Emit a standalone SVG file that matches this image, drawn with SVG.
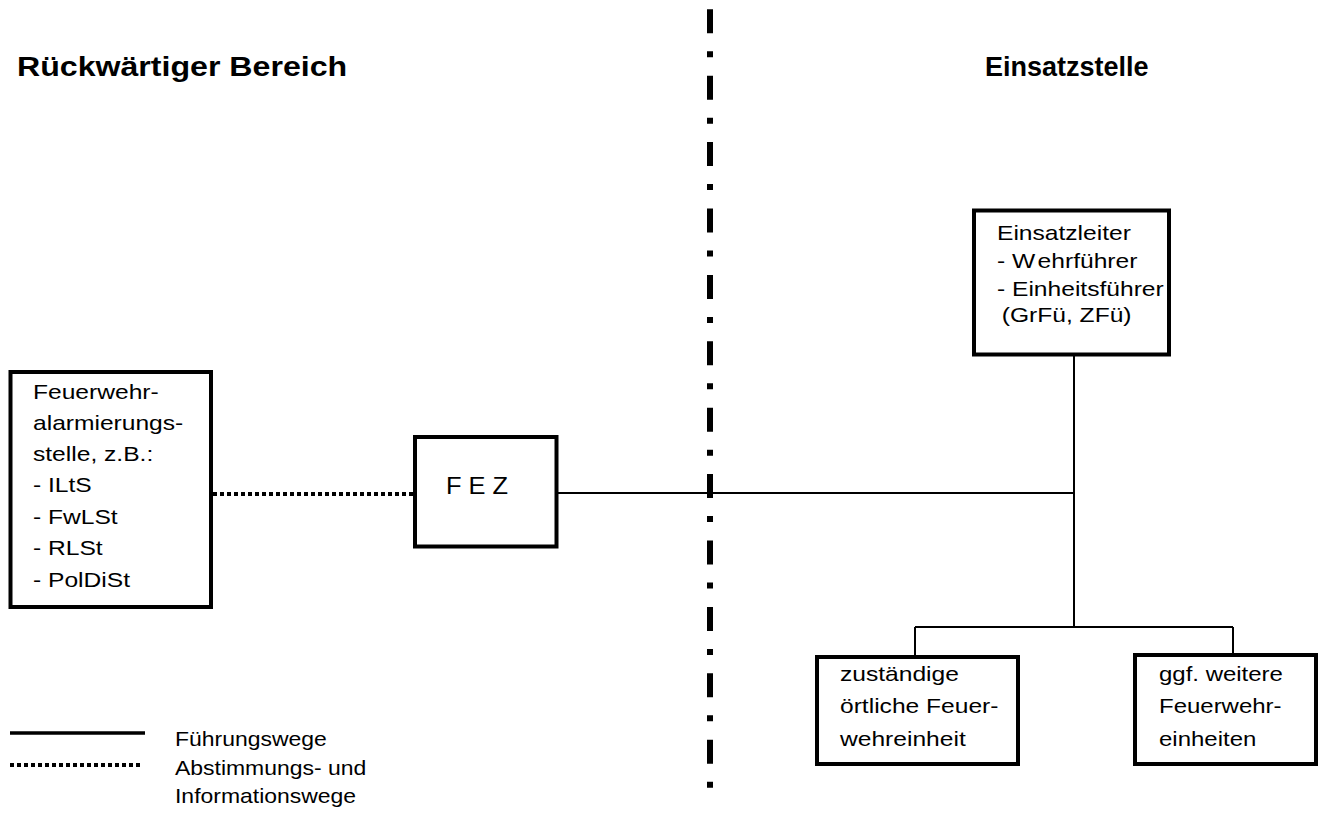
<svg xmlns="http://www.w3.org/2000/svg" width="1320" height="815" viewBox="0 0 1320 815">
<style>
.box{fill:#fff;stroke:#000;stroke-width:4}
.t{font-family:"Liberation Sans",Arial,sans-serif;font-size:20.5px;fill:#000}
.h{font-family:"Liberation Sans",Arial,sans-serif;font-size:27px;font-weight:bold;fill:#000}
.solid{stroke:#000;stroke-width:2;fill:none}
.dotted{stroke:#000;stroke-width:4;stroke-dasharray:4 3;fill:none}
.sep{stroke:#000;stroke-width:6;stroke-dasharray:24 18 6 18.4;fill:none}
</style>
<rect width="1320" height="815" fill="#fff"/>
<g id="titles">
<text class="h" transform="matrix(1.19,0,0,1,17,76)">Rückwärtiger Bereich</text>
<text class="h" transform="matrix(1,0,0,1,985,76)">Einsatzstelle</text>
</g>
<g id="separator">
<line class="sep" x1="710" y1="9.3" x2="710" y2="788"/>
</g>
<g id="connectors">
<line class="dotted" x1="213" y1="494" x2="413" y2="494"/>
<line class="solid" x1="558" y1="493" x2="1074" y2="493"/>
<line class="solid" x1="1074" y1="356" x2="1074" y2="627"/>
<line class="solid" x1="915" y1="627" x2="1233" y2="627"/>
<line class="solid" x1="915" y1="627" x2="915" y2="655"/>
<line class="solid" x1="1233" y1="627" x2="1233" y2="653"/>
</g>
<g id="node-alarmierungsstelle">
<rect class="box" x="10.5" y="372" width="200.5" height="235"/>
<text class="t" transform="matrix(1.2,0,0,1,33,0)"><tspan x="0" y="399">Feuerwehr-</tspan><tspan x="0" y="430">alarmierungs-</tspan><tspan x="0" y="461">stelle, z.B.:</tspan><tspan x="0" y="492">- ILtS</tspan><tspan x="0" y="524">- FwLSt</tspan><tspan x="0" y="555">- RLSt</tspan><tspan x="0" y="587">- PolDiSt</tspan></text>
</g>
<g id="node-fez">
<rect class="box" x="415" y="437" width="141.5" height="109.5"/>
<text class="t" style="font-size:24px" transform="matrix(1.06,0,0,1,446,494)">F E Z</text>
</g>
<g id="node-einsatzleiter">
<rect class="box" x="974" y="210.5" width="195" height="144"/>
<text class="t" transform="matrix(1.2,0,0,1,997,0)"><tspan x="0" y="240">Einsatzleiter</tspan><tspan x="0" y="268">- W</tspan><tspan dx="2">ehrführer</tspan><tspan x="0" y="296">- Einheitsführer</tspan><tspan x="4" y="322">(GrFü, ZFü)</tspan></text>
</g>
<g id="node-oertliche">
<rect class="box" x="817" y="657" width="201" height="107"/>
<text class="t" transform="matrix(1.2,0,0,1,840,0)"><tspan x="0" y="681">zuständige</tspan><tspan x="0" y="713">örtliche Feuer-</tspan><tspan x="0" y="746">wehreinheit</tspan></text>
</g>
<g id="node-weitere">
<rect class="box" x="1135" y="655" width="181" height="109"/>
<text class="t" transform="matrix(1.17,0,0,1,1159,0)"><tspan x="0" y="681">ggf. weitere</tspan><tspan x="0" y="713">Feuerwehr-</tspan><tspan x="0" y="746">einheiten</tspan></text>
</g>
<g id="legend">
<line stroke="#000" stroke-width="3.5" x1="10" y1="733" x2="145" y2="733"/>
<line class="dotted" x1="10" y1="765" x2="140" y2="765"/>
<text class="t" transform="matrix(1.12,0,0,1,175,0)"><tspan x="0" y="746">Führungswege</tspan><tspan x="0" y="775">Abstimmungs- und</tspan><tspan x="0" y="803">Informationswege</tspan></text>
</g>
</svg>
